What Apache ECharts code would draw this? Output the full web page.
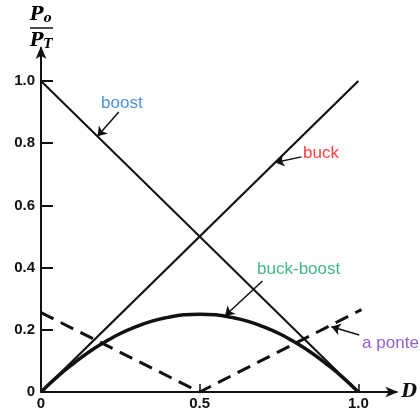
<!DOCTYPE html>
<html>
<head>
<meta charset="utf-8">
<script src="https://cdn.jsdelivr.net/npm/echarts@6/dist/echarts.min.js"></script>
<style>
  html, body { margin: 0; padding: 0; background: #fff; }
  #chart { width: 420px; height: 412px; }
</style>
</head>
<body>
<div id="chart"></div>
<script>
// Duty cycle D and normalised output power Po/PT for each converter
const dValues = [0, 0.05, 0.1, 0.15, 0.2, 0.25, 0.3, 0.35, 0.4, 0.45, 0.5,
                 0.55, 0.6, 0.65, 0.7, 0.75, 0.8, 0.85, 0.9, 0.95, 1.0];
const buckBoost = [0, 0.048, 0.09, 0.128, 0.16, 0.188, 0.21, 0.228, 0.24, 0.248, 0.25,
                   0.248, 0.24, 0.228, 0.21, 0.188, 0.16, 0.128, 0.09, 0.048, 0];
const boost = [[0, 1.0], [1.0, 0]];
const buck = [[0, 0], [1.0, 1.0]];
const ponteD = [0, 0.5, 1.01];
const ponte = [0.255, 0, 0.265];

// Tick labels
const xTickLabels = { 0: '0', 0.5: '0.5', 1: '1.0' };
const yTickLabels = { 0: '0', 0.2: '0.2', 0.4: '0.4', 0.6: '0.6', 0.8: '0.8', 1: '1.0' };

// Curve names with label anchor, arrow start and arrow tip (data coordinates)
const annotations = [
  { name: 'boost',      color: '#1f74d0', label: [0.255, 0.929], align: 'center', from: [0.245, 0.900], to: [0.178, 0.822] },
  { name: 'buck',       color: '#ff0f0f', label: [0.826, 0.768], align: 'left',   from: [0.821, 0.756], to: [0.738, 0.738] },
  { name: 'buck-boost', color: '#14a862', label: [0.812, 0.395], align: 'center', from: [0.698, 0.357], to: [0.580, 0.245] },
  { name: 'a ponte',    color: '#7a36c4', label: [1.012, 0.158], align: 'left',   from: [1.003, 0.183], to: [0.915, 0.210] }
];

const pairs = (xs, ys) => xs.map((x, i) => [x, ys[i]]);
const fmt = (map) => (v) => {
  const key = Math.round(v * 10) / 10;
  return map[key] !== undefined ? map[key] : '';
};

const chart = echarts.init(document.getElementById('chart'), null, { renderer: 'canvas' });

const serifTitle = { fontFamily: 'DejaVu Serif', fontStyle: 'italic', fontWeight: 'bold', color: '#111' };

chart.setOption({
  animation: false,
  backgroundColor: '#fff',
  grid: { left: 41, right: 23, top: 48, bottom: 20 },
  xAxis: {
    type: 'value', min: 0, max: 1.12, interval: 0.5,
    name: 'D', nameLocation: 'end', nameGap: 5,
    nameTextStyle: Object.assign({ fontSize: 18, verticalAlign: 'middle' }, serifTitle),
    axisLine: { show: true, onZero: false, symbol: ['none', 'arrow'], symbolSize: [8, 13], symbolOffset: [0, 2],
                lineStyle: { color: '#111', width: 2 } },
    axisTick: { show: true, inside: true, length: 8, lineStyle: { color: '#111', width: 1.5 } },
    axisLabel: { formatter: fmt(xTickLabels), showMaxLabel: false, margin: 4,
                 fontFamily: 'Liberation Sans', fontWeight: 'bold', fontSize: 15, color: '#111' },
    splitLine: { show: false }
  },
  yAxis: {
    type: 'value', min: 0, max: 1.106, interval: 0.2,
    axisLine: { show: true, onZero: false, symbol: ['none', 'arrow'], symbolSize: [8, 13], symbolOffset: [0, 2],
                lineStyle: { color: '#111', width: 2 } },
    axisTick: { show: true, inside: true, length: 12, lineStyle: { color: '#111', width: 2 } },
    axisLabel: { formatter: fmt(yTickLabels), showMaxLabel: false, margin: 6,
                 fontFamily: 'Liberation Sans', fontWeight: 'bold', fontSize: 15, color: '#111' },
    splitLine: { show: false }
  },
  graphic: [
    // Po / PT fraction above the vertical axis
    { type: 'text', left: 30, top: 6, z: 10,
      style: { text: '{p|P}{s|o}', rich: {
        p: Object.assign({ fontSize: 18 }, serifTitle),
        s: Object.assign({ fontSize: 12, padding: [8, 0, 0, 0] }, serifTitle) } } },
    { type: 'line', z: 10, shape: { x1: 30, y1: 28, x2: 53, y2: 28 }, style: { stroke: '#111', lineWidth: 1.5 } },
    { type: 'text', left: 30, top: 32, z: 10,
      style: { text: '{p|P}{s|T}', rich: {
        p: Object.assign({ fontSize: 18 }, serifTitle),
        s: Object.assign({ fontSize: 12, padding: [8, 0, 0, 0] }, serifTitle) } } }
  ],
  series: [
    { name: 'boost', type: 'line', data: boost, showSymbol: false, silent: true,
      lineStyle: { color: '#111', width: 2 } },
    { name: 'buck', type: 'line', data: buck, showSymbol: false, silent: true,
      lineStyle: { color: '#111', width: 2.2 } },
    { name: 'buck-boost', type: 'line', data: pairs(dValues, buckBoost), smooth: true, showSymbol: false, silent: true,
      lineStyle: { color: '#111', width: 3.5 } },
    { name: 'a ponte', type: 'line', data: pairs(ponteD, ponte), showSymbol: false, silent: true,
      lineStyle: { color: '#111', width: 3, type: [14, 8] } },
    // arrows from each name to its curve
    { type: 'lines', coordinateSystem: 'cartesian2d', silent: true, z: 5,
      symbol: ['none', 'arrow'], symbolSize: 9,
      lineStyle: { color: '#111', width: 1.5, opacity: 1, curveness: 0 },
      data: annotations.map(a => ({ coords: [a.from, a.to] })) },
    // curve names
    { type: 'scatter', symbolSize: 0, silent: true, z: 6,
      data: annotations.map(a => ({
        value: a.label, name: a.name,
        label: { show: true, position: 'inside', formatter: a.name, align: a.align,
                 color: a.color, fontFamily: 'Liberation Sans', fontSize: 17 }
      })) }
  ]
});
</script>
</body>
</html>
